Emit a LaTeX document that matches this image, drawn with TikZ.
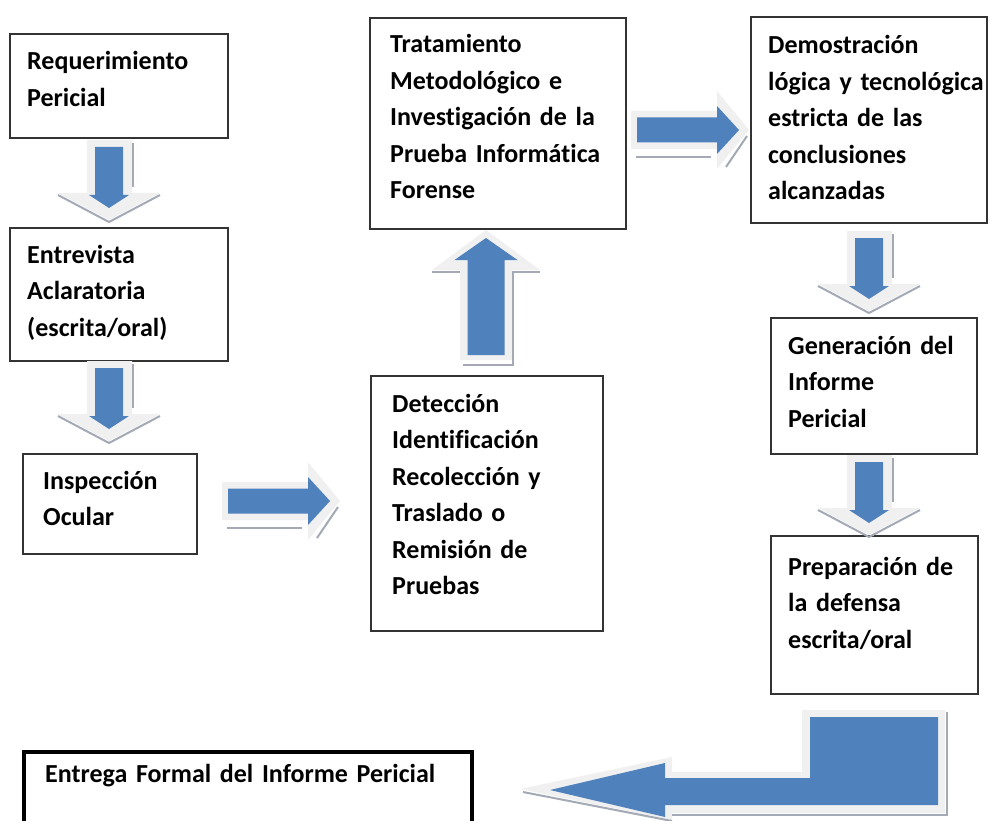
\documentclass[tikz,border=0pt]{standalone}
\usepackage{fontspec}
\setmainfont{Carlito}[Ligatures=NoCommon]
\usetikzlibrary{positioning,calc}
\definecolor{cBlue}{HTML}{4F81BD}
\definecolor{cHalo}{HTML}{F0F0F0}
\definecolor{cShade}{HTML}{A3AAB6}
\definecolor{cLine}{HTML}{333333}
\newcommand\boxfont{\fontsize{26}{36.5}\selectfont\bfseries\spaceskip=4.5pt plus 1pt\relax}
\tikzset{
  box/.style={draw=cLine,line width=2pt,anchor=north west,inner sep=0pt},
  bigbox/.style={box,draw=black,line width=3.5pt},
  txt/.style={anchor=base west,inner sep=0pt,align=left,text width=250pt,font=\boxfont},
  halo/.style={fill=cHalo},
  shade/.style={draw=cShade,line width=2pt},
  blk/.style={fill=cBlue},
  pics/downarr/.style={code={
    \fill[halo](-22,-7)--(23,-7)--(23,46)--(51,46)--(0,73)--(-51,46)--(-22,46)--cycle;
    \draw[shade](24,-4)--(24,40);\draw[shade](-51,48)--(0,75)--(51,48);
    \fill[blk](-14,0)--(14,0)--(14,48)--(20,48)--(0,61)--(-20,48)--(-14,48)--cycle;}},
  pics/uparr/.style={code={
    \fill[halo](-26,5)--(26,5)--(26,-85)--(54,-85)--(0,-125)--(-54,-85)--(-26,-85)--cycle;
    \draw[shade](-54,-83)--(-26,-83);\draw[shade](26,-83)--(54,-83);
    \draw[shade](27,-83)--(27,10)--(-23,10);
    \fill[blk](-18.5,0)--(18.5,0)--(18.5,-95)--(31.5,-95)--(0,-117)--(-31.5,-95)--(-18.5,-95)--cycle;}},
  pics/rightarr/.style={code={
    \fill[halo](-6,-19)--(80,-19)--(80,-39)--(112,0)--(80,39)--(80,19)--(-6,19)--cycle;
    \draw[shade](-1,27)--(74,27);\draw[shade](89,37)--(110,6);
    \fill[blk](0,-12.5)--(80,-12.5)--(80,-24)--(102,0)--(80,24)--(80,12.5)--(0,12.5)--cycle;}},
}
\begin{document}
\begin{tikzpicture}[x=1pt,y=-1pt]
  \useasboundingbox (0,0) rectangle (990,821);
  \clip (0,0) rectangle (990,821);
  \node[box,minimum width=218,minimum height=104](req) at (9,33){};
  \node[box,minimum width=218,minimum height=133](entr) at (9,227){};
  \node[box,minimum width=174,minimum height=100](insp) at (22,453){};
  \node[box,minimum width=232,minimum height=255](det) at (370,375){};
  \node[box,minimum width=256,minimum height=211](trat) at (369,17){};
  \node[box,minimum width=236,minimum height=206](dem) at (750,16){};
  \node[box,minimum width=206,minimum height=136](gen) at (770,317){};
  \node[box,minimum width=207,minimum height=158](prep) at (770,535){};
  \node[bigbox,minimum width=448,minimum height=100](entg) at (22,750){};
  \node[txt](reqT) at ([shift={(18,37)}]req.north west){Requerimiento\\Pericial};
  \node[txt](entrT) at ([shift={(18,36)}]entr.north west){Entrevista\\Aclaratoria\\(escrita/oral)};
  \node[txt](inspT) at ([shift={(21,36)}]insp.north west){Inspección\\Ocular};
  \node[txt](detT) at ([shift={(22,37)}]det.north west){Detección\\Identificación\\Recolección y\\Traslado o\\Remisión de\\Pruebas};
  \node[txt](tratT) at ([shift={(21,36)}]trat.north west){Tratamiento\\Metodológico e\\Investigación de la\\Prueba Informática\\Forense};
  \node[txt](demT) at ([shift={(18,38)}]dem.north west){Demostración\\lógica y tecnológica\\estricta de las\\conclusiones\\alcanzadas};
  \node[txt](genT) at ([shift={(18,37)}]gen.north west){Generación del\\Informe\\Pericial};
  \node[txt](prepT) at ([shift={(18,40)}]prep.north west){Preparación de\\la defensa\\escrita/oral};
  \node[txt,text width=420pt](entgT) at ([shift={(23,32)}]entg.north west){Entrega Formal del Informe Pericial};
  \pic (dn1) at (109,147){downarr};
  \pic (dn2) at (109,368){downarr};
  \pic (dn3) at (869,238){downarr};
  \pic (dn4) at (869,462){downarr};
  \pic (up1) at (486,355){uparr};
  \pic (rt1) at (228,501){rightarr};
  \pic (rt2) at (637,130){rightarr};
  \fill[halo](945,710)--(945,813)--(672,813)--(672,820)--(520,789)--(672,757)--(672,772)--(802,772)--(802,710)--cycle;
  \draw[shade](523,792)--(672,821);\draw[shade](672,815)--(947,815)--(947,712);
  \fill[blk](938,717)--(938,805)--(665,805)--(665,817)--(550,790)--(665,763)--(665,778)--(810,778)--(810,717)--cycle;
\end{tikzpicture}
\end{document}
